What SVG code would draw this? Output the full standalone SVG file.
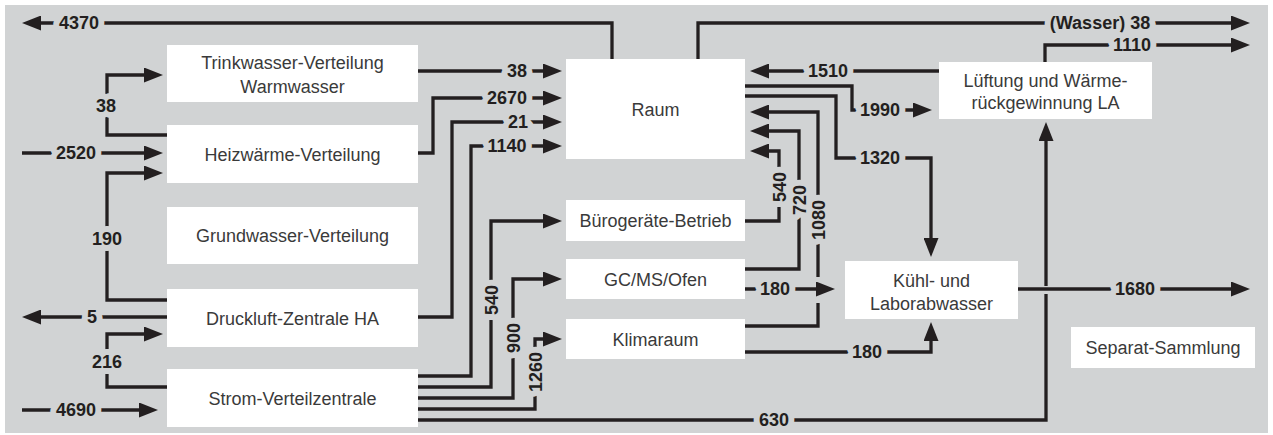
<svg xmlns="http://www.w3.org/2000/svg" width="1273" height="435" viewBox="0 0 1273 435">
<defs>
<marker id="ah" markerUnits="userSpaceOnUse" markerWidth="19" markerHeight="15" refX="9" refY="7.5" orient="auto">
<path d="M0,0 L19,7.5 L0,15 z" fill="#231f20"/>
</marker>
<style>
.bx{fill:#ffffff}
.bt{font-family:"Liberation Sans",Arial,sans-serif;font-size:18px;fill:#3a3a3a;text-anchor:middle}
.cn{fill:none;stroke:#231f20;stroke-width:3.3;stroke-linejoin:miter}
.ar{marker-end:url(#ah)}
.lb{font-family:"Liberation Sans",Arial,sans-serif;font-size:18px;font-weight:bold;fill:#231f20;text-anchor:middle;stroke:#d1d3d4;stroke-width:12;stroke-linejoin:round;paint-order:stroke}
</style>
</defs>
<rect x="5" y="5" width="1263" height="428" fill="#d1d3d4"/>

<g id="connectors">
<path class="cn ar" d="M612,59 V23 H32"/>
<path class="cn ar" d="M698,59 V23 H1240"/>
<path class="cn ar" d="M1045,62 V45 H1240"/>
<path class="cn ar" d="M939,71 H760"/>
<path class="cn ar" d="M745,86 H852 V110 H922"/>
<path class="cn ar" d="M745,96 H836 V158 H931 V247"/>
<path class="cn ar" d="M745,326 H818 V303 M818,277 V112 H760"/>
<path class="cn ar" d="M745,269 H799 V131 H760"/>
<path class="cn ar" d="M745,221 H779 V151 H760"/>
<path class="cn ar" d="M745,289 H825"/>
<path class="cn ar" d="M745,352 H931 V332"/>
<path class="cn ar" d="M1018,289 H1240"/>
<path class="cn ar" d="M418,420 H1046 V294 M1046,286 V132"/>
<path class="cn ar" d="M418,71 H552"/>
<path class="cn ar" d="M418,153 H433 V98 H552"/>
<path class="cn ar" d="M418,317 H452 V122 H552"/>
<path class="cn ar" d="M418,376 H471 V146 H552"/>
<path class="cn ar" d="M418,387 H491 V221 H552"/>
<path class="cn ar" d="M418,398 H513 V279 H552"/>
<path class="cn ar" d="M418,409 H535 V339 H552"/>
<path class="cn ar" d="M22,153 H153"/>
<path class="cn ar" d="M167,135 H107 V75 H153"/>
<path class="cn ar" d="M167,300 H107 V173 H153"/>
<path class="cn ar" d="M167,317 H32"/>
<path class="cn ar" d="M167,387 H107 V334 H153"/>
<path class="cn ar" d="M22,410 H148"/>

<text class="lb" x="79" y="29">4370</text>
<text class="lb" x="1100" y="29">(Wasser) 38</text>
<text class="lb" x="1132" y="51">1110</text>
<text class="lb" x="828" y="77">1510</text>
<text class="lb" x="880" y="116">1990</text>
<text class="lb" x="880" y="164">1320</text>
<text class="lb" transform="translate(818,220) rotate(-90)" x="0" y="6.5">1080</text>
<text class="lb" transform="translate(799,200) rotate(-90)" x="0" y="6.5">720</text>
<text class="lb" transform="translate(779,187) rotate(-90)" x="0" y="6.5">540</text>
<text class="lb" x="775" y="295">180</text>
<text class="lb" x="867" y="358">180</text>
<text class="lb" x="1135" y="295">1680</text>
<text class="lb" x="774" y="426">630</text>
<text class="lb" x="517" y="77">38</text>
<text class="lb" x="507" y="104">2670</text>
<text class="lb" x="518" y="128">21</text>
<text class="lb" x="507" y="152">1140</text>
<text class="lb" transform="translate(491,300) rotate(-90)" x="0" y="6.5">540</text>
<text class="lb" transform="translate(513,338) rotate(-90)" x="0" y="6.5">900</text>
<text class="lb" transform="translate(535,372) rotate(-90)" x="0" y="6.5">1260</text>
<text class="lb" x="76" y="159">2520</text>
<text class="lb" x="106" y="112">38</text>
<text class="lb" x="107" y="245">190</text>
<text class="lb" x="92" y="323">5</text>
<text class="lb" x="107" y="368">216</text>
<text class="lb" x="76" y="416">4690</text>
</g>

<g id="n-trinkwasser"><rect class="bx" x="167" y="45" width="251" height="57"/><text class="bt" x="292.5" y="69">Trinkwasser-Verteilung</text><text class="bt" x="292.5" y="93">Warmwasser</text></g>
<g id="n-heizwaerme"><rect class="bx" x="167" y="125" width="251" height="58"/><text class="bt" x="292.5" y="161">Heizwärme-Verteilung</text></g>
<g id="n-grundwasser"><rect class="bx" x="167" y="207" width="251" height="57"/><text class="bt" x="292.5" y="242">Grundwasser-Verteilung</text></g>
<g id="n-druckluft"><rect class="bx" x="167" y="289" width="251" height="58"/><text class="bt" x="292.5" y="325">Druckluft-Zentrale HA</text></g>
<g id="n-strom"><rect class="bx" x="167" y="369" width="251" height="58"/><text class="bt" x="292.5" y="405">Strom-Verteilzentrale</text></g>
<g id="n-raum"><rect class="bx" x="566" y="59" width="179" height="100"/><text class="bt" x="655.5" y="116">Raum</text></g>
<g id="n-buero"><rect class="bx" x="566" y="200" width="179" height="41"/><text class="bt" x="655.5" y="227">Bürogeräte-Betrieb</text></g>
<g id="n-gcms"><rect class="bx" x="566" y="259" width="179" height="40"/><text class="bt" x="655.5" y="286">GC/MS/Ofen</text></g>
<g id="n-klima"><rect class="bx" x="566" y="319" width="179" height="40"/><text class="bt" x="655.5" y="346">Klimaraum</text></g>
<g id="n-lueftung"><rect class="bx" x="939" y="62" width="213" height="57"/><text class="bt" x="1045.5" y="87">Lüftung und Wärme-</text><text class="bt" x="1045.5" y="109">rückgewinnung LA</text></g>
<g id="n-kuehl"><rect class="bx" x="845" y="261" width="173" height="58"/><text class="bt" x="931.5" y="287">Kühl- und</text><text class="bt" x="931.5" y="310">Laborabwasser</text></g>
<g id="n-separat"><rect class="bx" x="1071" y="327" width="184" height="41"/><text class="bt" x="1163" y="354">Separat-Sammlung</text></g>
</svg>
